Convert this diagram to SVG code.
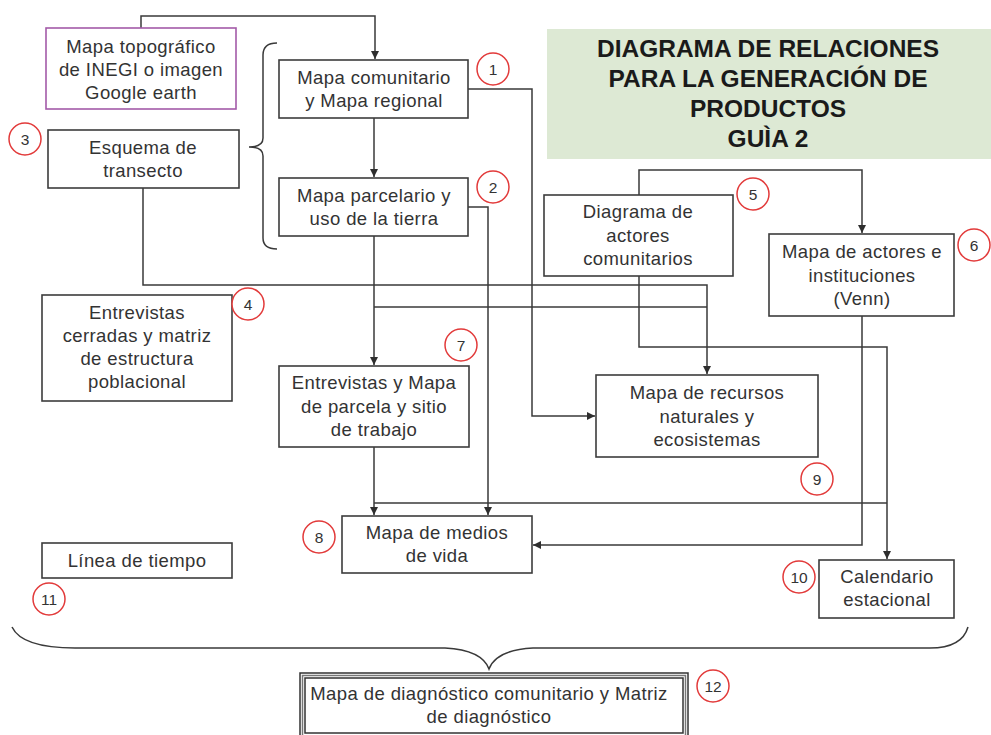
<svg xmlns="http://www.w3.org/2000/svg" width="991" height="735" viewBox="0 0 991 735">
<defs>
<marker id="arr" viewBox="0 0 10 10" refX="10" refY="5" markerWidth="8" markerHeight="8" markerUnits="userSpaceOnUse" orient="auto">
<path d="M0,0 L10,5 L0,10 z" fill="#2e2e2e"/>
</marker>
<style>
.box{fill:#fff;stroke:#3c3c3c;stroke-width:1.6}
.t{font-family:"Liberation Sans",Arial,sans-serif;font-size:18.5px;letter-spacing:0.4px;fill:#333;text-anchor:middle}
.num circle{fill:#fff;stroke:#e23a3a;stroke-width:1.5}
.num text{font-family:"Liberation Sans",Arial,sans-serif;font-size:15.5px;fill:#333;text-anchor:middle}
.c{fill:none;stroke:#3a3a3a;stroke-width:1.5}
.title{font-family:"Liberation Sans",Arial,sans-serif;font-size:24.5px;font-weight:bold;fill:#1a1a1a;text-anchor:middle}
</style>
</defs>
<rect width="991" height="735" fill="#fff"/>

<g id="title">
<rect x="547" y="29" width="444" height="130" fill="#dde9d4"/>
<text class="title" x="768" y="57">DIAGRAMA DE RELACIONES</text>
<text class="title" x="768" y="87">PARA LA GENERACIÓN DE</text>
<text class="title" x="768" y="117">PRODUCTOS</text>
<text class="title" x="768" y="147">GUÌA 2</text>
</g>

<g id="connectors">
<path class="c" d="M141,28 V16 H375 V59" marker-end="url(#arr)"/>
<path class="c" d="M374,118 V177" marker-end="url(#arr)"/>
<path class="c" d="M468,89 H532 V416 H595" marker-end="url(#arr)"/>
<path class="c" d="M468,207 H488 V515" marker-end="url(#arr)"/>
<path class="c" d="M374,236 V365" marker-end="url(#arr)"/>
<path class="c" d="M374,307 H707"/>
<path class="c" d="M143,188 V285 H707 V374" marker-end="url(#arr)"/>
<path class="c" d="M639,195 V170 H862 V233" marker-end="url(#arr)"/>
<path class="c" d="M639,276 V347 H887 V559" marker-end="url(#arr)"/>
<path class="c" d="M862,316 V545 H533" marker-end="url(#arr)"/>
<path class="c" d="M374,447 V515" marker-end="url(#arr)"/>
<path class="c" d="M374,503 H887"/>
<path class="c" d="M277,43 Q263,43 263,55 L263,138 Q263,147 249,147 Q263,147 263,156 L263,238 Q263,249 277,249"/>
<path class="c" d="M12,627 Q22,648 75,648 L445,648 Q482,650 489,669 Q496,650 533,648 L930,648 Q962,648 968,627"/>
</g>

<g id="n-topografico">
<rect x="46" y="28" width="190" height="81" fill="#fff" stroke="#a35aa8" stroke-width="1.6"/>
<text class="t" x="141" y="53">Mapa topográfico</text>
<text class="t" x="141" y="76">de INEGI o imagen</text>
<text class="t" x="141" y="99">Google earth</text>
</g>

<g id="n-esquema">
<rect class="box" x="48" y="130" width="191" height="58"/>
<text class="t" x="143" y="154">Esquema de</text>
<text class="t" x="143" y="177">transecto</text>
</g>

<g id="n-comunitario">
<rect class="box" x="279" y="60" width="189" height="58"/>
<text class="t" x="374" y="84">Mapa comunitario</text>
<text class="t" x="374" y="107">y Mapa regional</text>
</g>

<g id="n-parcelario">
<rect class="box" x="279" y="178" width="189" height="58"/>
<text class="t" x="374" y="202">Mapa parcelario y</text>
<text class="t" x="374" y="225">uso de la tierra</text>
</g>

<g id="n-diagrama-actores">
<rect class="box" x="544" y="195" width="189" height="81"/>
<text class="t" x="638" y="218">Diagrama de</text>
<text class="t" x="638" y="242">actores</text>
<text class="t" x="638" y="265">comunitarios</text>
</g>

<g id="n-mapa-actores">
<rect class="box" x="769" y="234" width="185" height="82"/>
<text class="t" x="862" y="258">Mapa de actores e</text>
<text class="t" x="862" y="282">instituciones</text>
<text class="t" x="862" y="305">(Venn)</text>
</g>

<g id="n-entrevistas-cerradas">
<rect class="box" x="42" y="295" width="190" height="106"/>
<text class="t" x="137" y="319">Entrevistas</text>
<text class="t" x="137" y="342">cerradas y matriz</text>
<text class="t" x="137" y="365">de estructura</text>
<text class="t" x="137" y="388">poblacional</text>
</g>

<g id="n-entrevistas-parcela">
<rect class="box" x="279" y="366" width="190" height="81"/>
<text class="t" x="374" y="389">Entrevistas y Mapa</text>
<text class="t" x="374" y="413">de parcela y sitio</text>
<text class="t" x="374" y="436">de trabajo</text>
</g>

<g id="n-recursos">
<rect class="box" x="596" y="375" width="222" height="82"/>
<text class="t" x="707" y="399">Mapa de recursos</text>
<text class="t" x="707" y="423">naturales y</text>
<text class="t" x="707" y="446">ecosistemas</text>
</g>

<g id="n-medios">
<rect class="box" x="342" y="516" width="190" height="57"/>
<text class="t" x="437" y="539">Mapa de medios</text>
<text class="t" x="437" y="562">de vida</text>
</g>

<g id="n-calendario">
<rect class="box" x="819" y="560" width="135" height="58"/>
<text class="t" x="887" y="583">Calendario</text>
<text class="t" x="887" y="606">estacional</text>
</g>

<g id="n-linea">
<rect class="box" x="42" y="543" width="190" height="35"/>
<text class="t" x="137" y="567">Línea de tiempo</text>
</g>

<g id="n-diagnostico">
<rect x="300" y="673" width="388" height="70" fill="#fff" stroke="#333" stroke-width="1.5"/>
<rect x="302.5" y="675.5" width="383" height="65" fill="none" stroke="#777" stroke-width="1.5"/>
<rect x="305" y="678" width="378" height="55" fill="none" stroke="#333" stroke-width="1.5"/>
<text class="t" x="489" y="700">Mapa de diagnóstico comunitario y Matriz</text>
<text class="t" x="489" y="723">de diagnóstico</text>
</g>

<g id="numbers">
<g class="num"><circle cx="493" cy="69" r="16"/><text x="493" y="75">1</text></g>
<g class="num"><circle cx="493" cy="187" r="16"/><text x="493" y="193">2</text></g>
<g class="num"><circle cx="25" cy="139" r="16"/><text x="25" y="145">3</text></g>
<g class="num"><circle cx="248" cy="304" r="16"/><text x="248" y="310">4</text></g>
<g class="num"><circle cx="753" cy="194" r="16"/><text x="753" y="200">5</text></g>
<g class="num"><circle cx="974" cy="245" r="16"/><text x="974" y="251">6</text></g>
<g class="num"><circle cx="461" cy="345" r="16"/><text x="461" y="351">7</text></g>
<g class="num"><circle cx="319" cy="537" r="16"/><text x="319" y="543">8</text></g>
<g class="num"><circle cx="817" cy="479" r="16"/><text x="817" y="485">9</text></g>
<g class="num"><circle cx="799" cy="577" r="16"/><text x="799" y="583">10</text></g>
<g class="num"><circle cx="49" cy="599" r="16"/><text x="49" y="605">11</text></g>
<g class="num"><circle cx="713" cy="686" r="16"/><text x="713" y="692">12</text></g>
</g>
</svg>
